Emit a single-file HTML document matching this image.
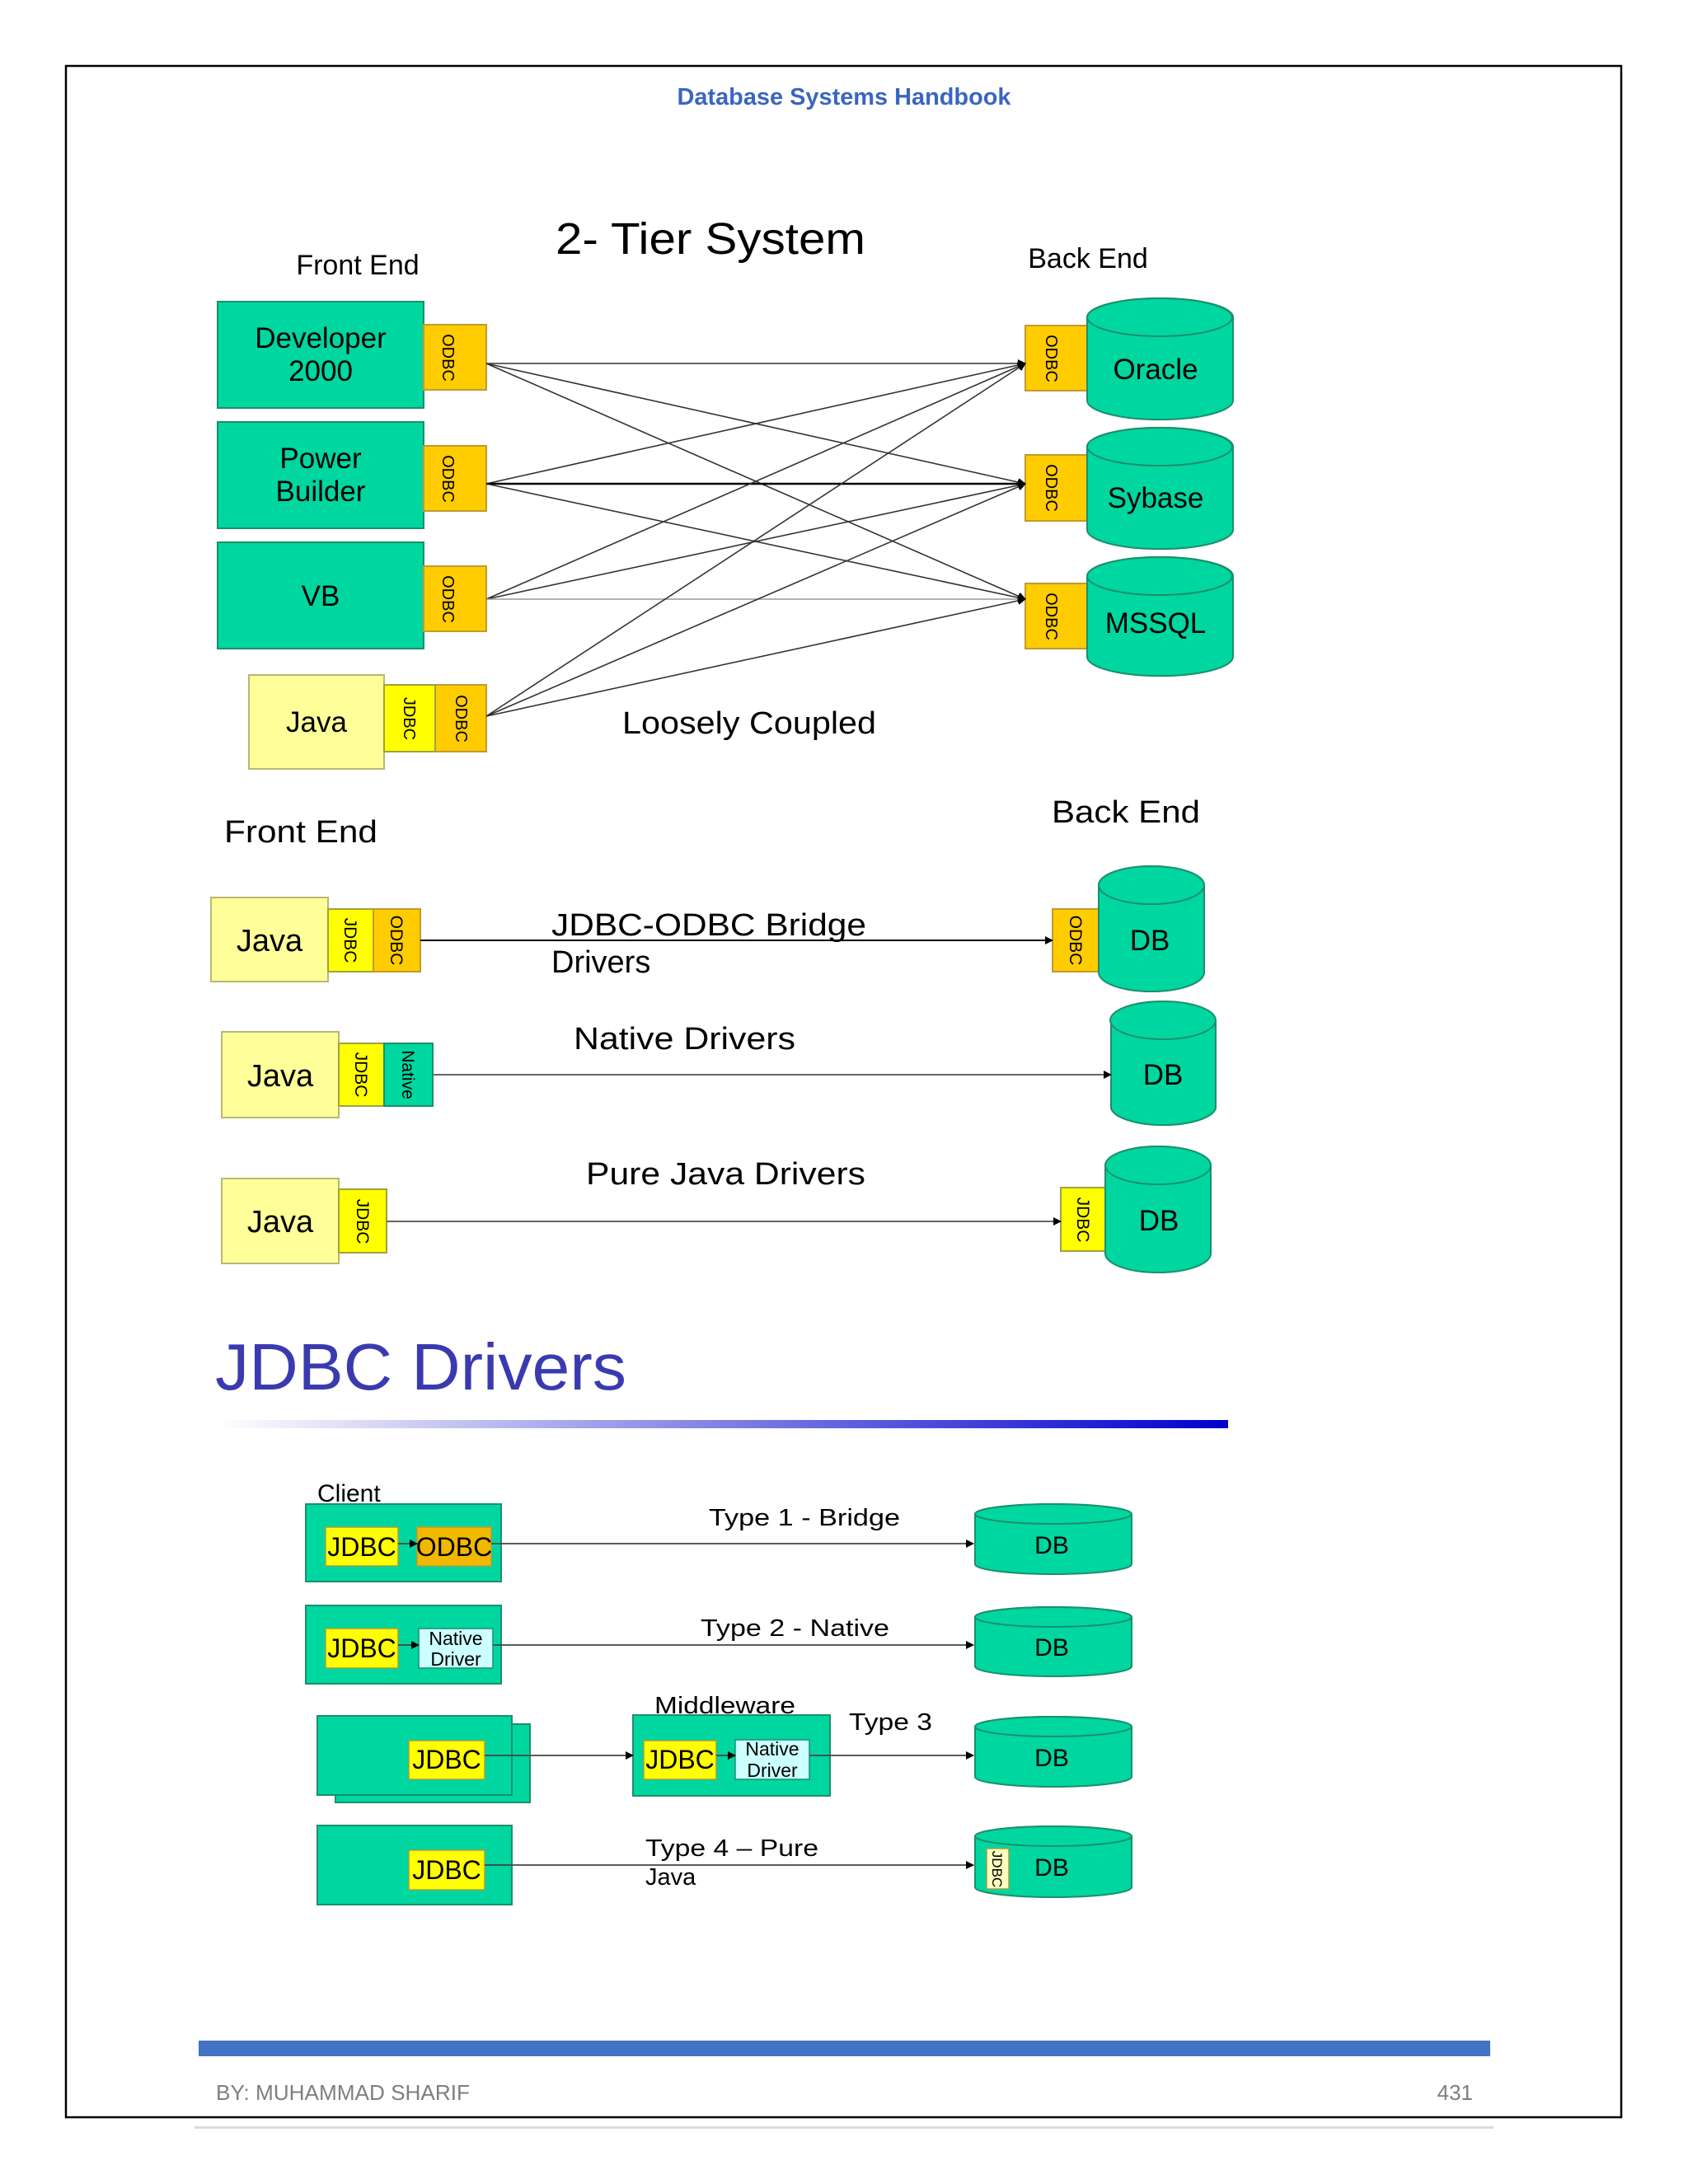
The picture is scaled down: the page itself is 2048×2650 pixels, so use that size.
<!DOCTYPE html>
<html><head><meta charset="utf-8"><style>
html,body{margin:0;padding:0;background:#fff;}
svg{display:block;}
text{font-family:"Liberation Sans",Arial,sans-serif;}
</style></head><body>
<svg width="2048" height="2650" viewBox="0 0 2048 2650" xmlns="http://www.w3.org/2000/svg">
<defs>
<marker id="ar" markerWidth="10" markerHeight="10" refX="9" refY="5" orient="auto" markerUnits="userSpaceOnUse"><path d="M0,0 L10,5 L0,10 z" fill="#000"/></marker>
<linearGradient id="gl" x1="0" x2="1" y1="0" y2="0"><stop offset="0" stop-color="#ffffff"/><stop offset="0.4" stop-color="#9a9ae8"/><stop offset="1" stop-color="#0000cc"/></linearGradient>
</defs>
<!-- page border -->
<rect x="80" y="80" width="1887" height="2489" fill="none" stroke="#000" stroke-width="2.5"/>
<text x="1024" y="127" font-size="29" font-weight="bold" fill="#3a66c0" text-anchor="middle" textLength="405" lengthAdjust="spacingAndGlyphs">Database Systems Handbook</text>

<!-- 2 Tier -->
<text x="862" y="308" font-size="54" text-anchor="middle" textLength="376" lengthAdjust="spacingAndGlyphs">2- Tier System</text>
<text x="434" y="333" font-size="34" text-anchor="middle">Front End</text>
<text x="1320" y="325" font-size="34" text-anchor="middle">Back End</text>

<g stroke="#1b8f6c" stroke-width="2" fill="#00d6a0">
<rect x="264" y="366" width="250" height="129"/>
<rect x="264" y="512" width="250" height="129"/>
<rect x="264" y="658" width="250" height="129"/>
</g>
<rect x="302" y="819" width="164" height="114" fill="#ffff99" stroke="#b8b870" stroke-width="2"/>
<g stroke="#c09a30" stroke-width="2" fill="#ffcc00">
<rect x="514" y="394" width="76" height="79"/>
<rect x="514" y="541" width="76" height="79"/>
<rect x="514" y="687" width="76" height="79"/>
<rect x="528" y="831" width="62" height="81"/>
<rect x="1244" y="395" width="75" height="79"/>
<rect x="1244" y="552" width="75" height="80"/>
<rect x="1244" y="708" width="75" height="79"/>
</g>
<rect x="466" y="831" width="62" height="81" fill="#ffff00" stroke="#a0a040" stroke-width="2"/>
<g font-size="20" text-anchor="middle">
<text transform="translate(544,434) rotate(90)" dy="7">ODBC</text>
<text transform="translate(544,581) rotate(90)" dy="7">ODBC</text>
<text transform="translate(544,727) rotate(90)" dy="7">ODBC</text>
<text transform="translate(560,872) rotate(90)" dy="7">ODBC</text>
<text transform="translate(497,872) rotate(90)" dy="7">JDBC</text>
<text transform="translate(1276,435) rotate(90)" dy="7">ODBC</text>
<text transform="translate(1276,592) rotate(90)" dy="7">ODBC</text>
<text transform="translate(1276,748) rotate(90)" dy="7">ODBC</text>
</g>
<g font-size="35" text-anchor="middle">
<text x="389" y="422">Developer</text><text x="389" y="462">2000</text>
<text x="389" y="568">Power</text><text x="389" y="608">Builder</text>
<text x="389" y="735">VB</text>
<text x="384" y="888">Java</text>
</g>
<!-- cylinders -->
<g stroke="#1b8f6c" stroke-width="2" fill="#00d6a0">
<path d="M1319,385 A88,23 0 0 1 1496,385 L1496,486 A88,23 0 0 1 1319,486 Z"/><ellipse cx="1407" cy="385" rx="88" ry="23"/>
<path d="M1319,542 A88,23 0 0 1 1496,542 L1496,643 A88,23 0 0 1 1319,643 Z"/><ellipse cx="1407" cy="542" rx="88" ry="23"/>
<path d="M1319,699 A88,23 0 0 1 1496,699 L1496,797 A88,23 0 0 1 1319,797 Z"/><ellipse cx="1407" cy="699" rx="88" ry="23"/>
</g>
<g font-size="35" text-anchor="middle">
<text x="1402" y="460">Oracle</text>
<text x="1402" y="616">Sybase</text>
<text x="1402" y="768">MSSQL</text>
</g>
<!-- connections -->
<g stroke="#333" stroke-width="1.6" fill="none" marker-end="url(#ar)">
<line x1="590" y1="441" x2="1244" y2="441"/><line x1="590" y1="441" x2="1244" y2="587"/><line x1="590" y1="441" x2="1244" y2="727"/>
<line x1="590" y1="587" x2="1244" y2="441"/><line x1="590" y1="587" x2="1244" y2="587" stroke="#000" stroke-width="2.5"/><line x1="590" y1="587" x2="1244" y2="727"/>
<line x1="590" y1="727" x2="1244" y2="441"/><line x1="590" y1="727" x2="1244" y2="587"/><line x1="590" y1="727" x2="1244" y2="727" stroke="#999"/>
<line x1="590" y1="869" x2="1244" y2="441"/><line x1="590" y1="869" x2="1244" y2="587"/><line x1="590" y1="869" x2="1244" y2="727"/>
</g>
<text x="755" y="890" font-size="38" textLength="308" lengthAdjust="spacingAndGlyphs">Loosely Coupled</text>

<!-- Section 2 -->
<text x="272" y="1022" font-size="38" textLength="186" lengthAdjust="spacingAndGlyphs">Front End</text>
<text x="1276" y="998" font-size="38" textLength="180" lengthAdjust="spacingAndGlyphs">Back End</text>
<g fill="#ffff99" stroke="#b8b870" stroke-width="2">
<rect x="256" y="1089" width="142" height="102"/>
<rect x="269" y="1252" width="142" height="104"/>
<rect x="269" y="1430" width="142" height="103"/>
</g>
<g stroke="#a0a040" stroke-width="2" fill="#ffff00">
<rect x="398" y="1103" width="55" height="76"/>
<rect x="411" y="1266" width="55" height="76"/>
<rect x="411" y="1443" width="58" height="77"/>
<rect x="1287" y="1441" width="54" height="77"/>
</g>
<rect x="453" y="1103" width="57" height="76" fill="#ffcc00" stroke="#c09a30" stroke-width="2"/>
<rect x="1277" y="1103" width="56" height="76" fill="#ffcc00" stroke="#c09a30" stroke-width="2"/>
<rect x="466" y="1266" width="59" height="76" fill="#00d6a0" stroke="#1b8f6c" stroke-width="2"/>
<g font-size="21" text-anchor="middle">
<text transform="translate(425,1141) rotate(90)" dy="7">JDBC</text>
<text transform="translate(481,1141) rotate(90)" dy="7">ODBC</text>
<text transform="translate(1305,1141) rotate(90)" dy="7">ODBC</text>
<text transform="translate(438,1304) rotate(90)" dy="7">JDBC</text>
<text transform="translate(495,1304) rotate(90)" dy="7">Native</text>
<text transform="translate(440,1482) rotate(90)" dy="7">JDBC</text>
<text transform="translate(1314,1480) rotate(90)" dy="7">JDBC</text>
</g>
<g font-size="38" text-anchor="middle">
<text x="327" y="1154">Java</text>
<text x="340" y="1318">Java</text>
<text x="340" y="1495">Java</text>
</g>
<g stroke="#1b8f6c" stroke-width="2" fill="#00d6a0">
<path d="M1333,1074 A64,23 0 0 1 1461,1074 L1461,1180 A64,23 0 0 1 1333,1180 Z"/><ellipse cx="1397" cy="1074" rx="64" ry="23"/>
<path d="M1348,1238 A64,23 0 0 1 1475,1238 L1475,1345 A64,23 0 0 1 1348,1345 Z"/><ellipse cx="1411" cy="1238" rx="64" ry="23"/>
<path d="M1341,1414 A64,23 0 0 1 1469,1414 L1469,1521 A64,23 0 0 1 1341,1521 Z"/><ellipse cx="1405" cy="1414" rx="64" ry="23"/>
</g>
<g font-size="35" text-anchor="middle">
<text x="1395" y="1153">DB</text>
<text x="1411" y="1316">DB</text>
<text x="1406" y="1493">DB</text>
</g>
<g stroke="#333" stroke-width="2" marker-end="url(#ar)">
<line x1="510" y1="1141" x2="1277" y2="1141" stroke="#000"/>
<line x1="525" y1="1304" x2="1348" y2="1304" stroke="#666"/>
<line x1="469" y1="1482" x2="1287" y2="1482" stroke="#666"/>
</g>
<g font-size="38">
<text x="669" y="1135" textLength="382" lengthAdjust="spacingAndGlyphs">JDBC-ODBC Bridge</text>
<text x="669" y="1180">Drivers</text>
<text x="696" y="1273" textLength="269" lengthAdjust="spacingAndGlyphs">Native Drivers</text>
<text x="711" y="1437" textLength="339" lengthAdjust="spacingAndGlyphs">Pure Java Drivers</text>
</g>

<!-- JDBC Drivers -->
<text x="261" y="1686" font-size="80" fill="#3a3ab0" textLength="499" lengthAdjust="spacingAndGlyphs">JDBC Drivers</text>
<rect x="262" y="1723" width="1228" height="10" fill="url(#gl)"/>

<!-- Section 3 -->
<text x="385" y="1822" font-size="30">Client</text>
<g stroke="#1b8f6c" stroke-width="2" fill="#00d6a0">
<rect x="371" y="1825" width="237" height="94"/>
<rect x="371" y="1948" width="237" height="95"/>
<rect x="407" y="2092" width="236" height="95"/>
<rect x="385" y="2082" width="236" height="96"/>
<rect x="768" y="2081" width="239" height="98"/>
<rect x="385" y="2215" width="236" height="96"/>
</g>
<g fill="#ffff00" stroke="#a0a040" stroke-width="1.5">
<rect x="395" y="1853" width="88" height="47"/>
<rect x="395" y="1976" width="88" height="48"/>
<rect x="496" y="2112" width="92" height="47"/>
<rect x="781" y="2112" width="88" height="47"/>
<rect x="496" y="2245" width="92" height="48"/>
</g>
<rect x="506" y="1853" width="90" height="47" fill="#f2b800" stroke="#c09a30" stroke-width="1.5"/>
<g fill="#ccffff" stroke="#1b8f6c" stroke-width="1.5">
<rect x="508" y="1976" width="90" height="48"/>
<rect x="892" y="2111" width="90" height="48"/>
</g>
<g font-size="32" text-anchor="middle">
<text x="439" y="1888">JDBC</text>
<text x="551" y="1888">ODBC</text>
<text x="439" y="2011">JDBC</text>
<text x="542" y="2146">JDBC</text>
<text x="825" y="2146">JDBC</text>
<text x="542" y="2280">JDBC</text>
</g>
<g font-size="23" text-anchor="middle">
<text x="553" y="1996">Native</text><text x="553" y="2021">Driver</text>
<text x="937" y="2130">Native</text><text x="937" y="2156">Driver</text>
</g>
<g stroke="#444" stroke-width="1.8" marker-end="url(#ar)">
<line x1="483" y1="1873" x2="506" y2="1873"/>
<line x1="483" y1="1996" x2="508" y2="1996"/>
<line x1="869" y1="2130" x2="892" y2="2130"/>
<line x1="596" y1="1873" x2="1181" y2="1873"/>
<line x1="598" y1="1996" x2="1181" y2="1996"/>
<line x1="588" y1="2130" x2="768" y2="2130"/>
<line x1="982" y1="2130" x2="1181" y2="2130"/>
<line x1="588" y1="2263" x2="1181" y2="2263"/>
</g>
<g stroke="#1b8f6c" stroke-width="2" fill="#00d6a0">
<path d="M1183,1837 A95,12 0 0 1 1373,1837 L1373,1898 A95,12 0 0 1 1183,1898 Z"/><ellipse cx="1278" cy="1837" rx="95" ry="12"/>
<path d="M1183,1962 A95,12 0 0 1 1373,1962 L1373,2022 A95,12 0 0 1 1183,2022 Z"/><ellipse cx="1278" cy="1962" rx="95" ry="12"/>
<path d="M1183,2095 A95,12 0 0 1 1373,2095 L1373,2156 A95,12 0 0 1 1183,2156 Z"/><ellipse cx="1278" cy="2095" rx="95" ry="12"/>
<path d="M1183,2228 A95,12 0 0 1 1373,2228 L1373,2290 A95,12 0 0 1 1183,2290 Z"/><ellipse cx="1278" cy="2228" rx="95" ry="12"/>
</g>
<rect x="1197" y="2243" width="27" height="49" fill="#ffffc0" stroke="#a0a040" stroke-width="1.5"/>
<text transform="translate(1210,2268) rotate(90)" dy="6" font-size="17" text-anchor="middle">JDBC</text>
<g font-size="30" text-anchor="middle">
<text x="1276" y="1885">DB</text>
<text x="1276" y="2009">DB</text>
<text x="1276" y="2143">DB</text>
<text x="1276" y="2276">DB</text>
</g>
<g font-size="29">
<text x="860" y="1851" textLength="232" lengthAdjust="spacingAndGlyphs">Type 1 - Bridge</text>
<text x="850" y="1985" textLength="229" lengthAdjust="spacingAndGlyphs">Type 2 - Native</text>
<text x="794" y="2079" textLength="171" lengthAdjust="spacingAndGlyphs">Middleware</text>
<text x="1030" y="2099" textLength="101" lengthAdjust="spacingAndGlyphs">Type 3</text>
<text x="783" y="2252" textLength="210" lengthAdjust="spacingAndGlyphs">Type 4 – Pure</text>
<text x="783" y="2287">Java</text>
</g>

<!-- footer -->
<rect x="241" y="2476" width="1567" height="19" fill="#4472c4"/>
<text x="262" y="2548" font-size="26" fill="#7f7f7f" textLength="308" lengthAdjust="spacingAndGlyphs">BY: MUHAMMAD SHARIF</text>
<text x="1787" y="2548" font-size="26" fill="#7f7f7f" text-anchor="end">431</text>
<rect x="236" y="2580" width="1576" height="3" fill="#dcdcdc"/>
</svg>
</body></html>
